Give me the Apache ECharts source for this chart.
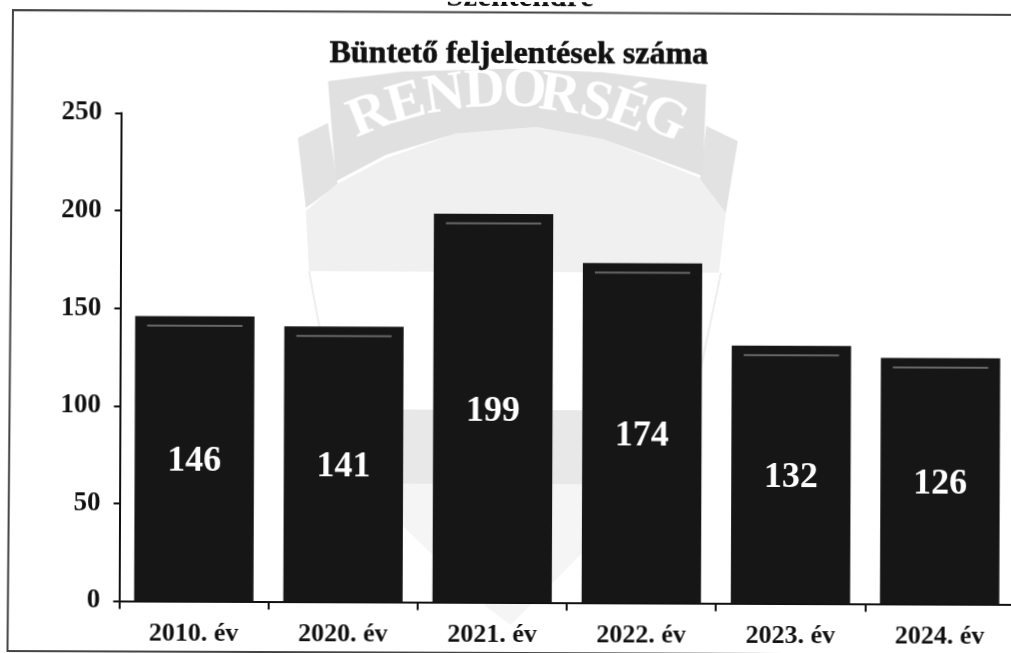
<!DOCTYPE html>
<html>
<head>
<meta charset="utf-8">
<style>
html,body{margin:0;padding:0;background:#fff;overflow:hidden;width:1011px;height:653px}
#c{width:1030px;height:653px;transform:rotate(0.22deg);transform-origin:0 0;filter:blur(0.45px)}
</style>
<script src="https://cdn.jsdelivr.net/npm/echarts@6/dist/echarts.min.js"></script>
</head>
<body>
<div id="c"></div>
<script>
var categories = ['2010. év','2020. év','2021. év','2022. év','2023. év','2024. év'];
var reports = [146,141,199,174,132,126];
var chartTitle = 'Büntető feljelentések száma';
var pageHeading = 'Szentendre';
var crestLetters = ['R','E','N','D','Ő','R','S','É','G'];

var FONT = '"Liberation Serif", serif';
function z(px, py){ return [270 + px/3, 60 + py/3]; }
function poly(points, fill, extra){
  return Object.assign({type:'polygon', silent:true, z:-10,
    shape:{points:points.map(function(p){return z(p[0],p[1]);})},
    style:{fill:fill}}, extra||{});
}
var letterSpots = [[300,165,22],[410,128,16],[525,103,9],[645,90,3],[765,88,-3],[870,103,-8],[980,125,-14],[1075,150,-20],[1185,172,-26]];
var crest = [
  poly([[85,230],[175,185],[205,370],[110,440]],'#e2e2e2'),
  poly([[1310,190],[1405,235],[1370,450],[1290,370]],'#e2e2e2'),
  poly([[110,450],[200,370],[350,290],[560,215],[800,195],[1000,230],[1290,345],[1370,450],[1350,630],[120,630]],'#f0f0f0'),
  poly([[175,60],[400,30],[720,20],[1000,30],[1310,65],[1300,340],[1000,230],[800,195],[560,215],[350,280],[200,360]],'#e0e0e0'),
  {type:'polyline',silent:true,z:-10,shape:{points:[[310,270],[335,400]]},style:{stroke:'#eeeeee',lineWidth:2,fill:'none'}},
  {type:'polyline',silent:true,z:-10,shape:{points:[[722,270],[695,400]]},style:{stroke:'#eeeeee',lineWidth:2,fill:'none'}},
  {type:'polygon',silent:true,z:-10,shape:{points:[[400,408],[590,408],[590,482],[400,482]]},style:{fill:'#e8e8e8'}},
  {type:'polygon',silent:true,z:-10,shape:{points:[[400,482],[590,482],[590,545],[513,623],[490,606],[400,520]]},style:{fill:'#f5f5f5'}}
];
crestLetters.forEach(function(ch,i){
  var s = letterSpots[i], p = z(s[0],s[1]);
  crest.push({type:'text',silent:true,z:-9,x:p[0],y:p[1],rotation:s[2]*Math.PI/180,
    style:{text:ch,fill:'#ffffff',font:'bold 56px '+FONT,align:'center',verticalAlign:'middle'}});
});
var frame = {type:'polyline',silent:true,z:-5,
  shape:{points:[[1035,11],[13,10],[10,651],[1035,651]]},
  style:{stroke:'#444444',lineWidth:2,fill:'none'}};
var heading = {type:'text',silent:true,z:5,x:520,y:-20,
  style:{text:pageHeading,fill:'#111111',font:'bold 31px '+FONT,align:'center',verticalAlign:'top'}};

var chart = echarts.init(document.getElementById('c'), null, {renderer:'canvas'});
chart.setOption({
  animation:false,
  backgroundColor:'transparent',
  graphic:{elements:crest.concat([frame,heading])},
  title:{text:chartTitle,left:514,top:32,textAlign:'center',
    textStyle:{fontFamily:FONT,fontWeight:'bold',fontSize:32,color:'#111111',textBorderColor:'#111111',textBorderWidth:0.6}},
  grid:{left:121.5,top:112.5,bottom:52.5,width:895,containLabel:false},
  xAxis:{type:'category',data:categories,
    axisLine:{lineStyle:{color:'#111111',width:2}},
    axisTick:{show:true,length:8,alignWithLabel:false,lineStyle:{color:'#111111',width:2}},
    axisLabel:{interval:0,margin:20,fontFamily:FONT,fontWeight:'bold',fontSize:26,color:'#111111'},
    splitLine:{show:false}},
  yAxis:{type:'value',min:0,max:250,interval:50,
    axisLine:{show:true,lineStyle:{color:'#111111',width:2}},
    axisTick:{show:true,length:6,lineStyle:{color:'#111111',width:2}},
    axisLabel:{margin:19,fontFamily:FONT,fontWeight:'bold',fontSize:27,color:'#111111'},
    splitLine:{show:false}},
  series:[
    {type:'bar',data:reports,barWidth:'80%',
     itemStyle:{color:'#161616'},
     label:{show:true,position:'inside',offset:[0,3],fontFamily:FONT,fontWeight:'bold',fontSize:36,color:'#ffffff'}},
    {type:'custom',data:reports,z:5,silent:true,
     encode:{x:0,y:0},
     renderItem:function(params,api){
       var top = api.coord([params.dataIndex, api.value(0)]);
       var w = api.size([1,0])[0]*0.8;
       return {type:'line',
         shape:{x1:top[0]-w/2+12,y1:top[1]+9.5,x2:top[0]+w/2-12,y2:top[1]+9.5},
         style:{stroke:'#666666',lineWidth:2}};
     }}
  ]
});
</script>
</body>
</html>
